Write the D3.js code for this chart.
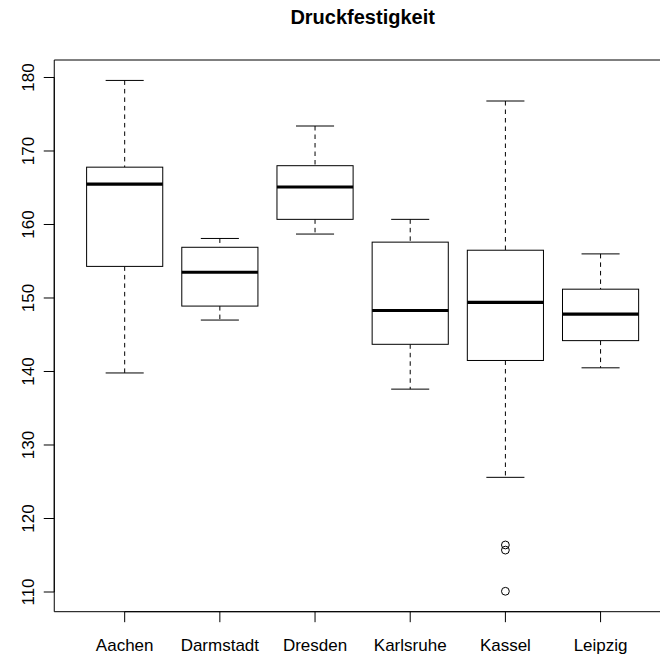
<!DOCTYPE html>
<html>
<head>
<meta charset="utf-8">
<script src="https://cdn.jsdelivr.net/npm/d3@7"></script>
<style>
  html, body { margin: 0; padding: 0; background: #fff; overflow: hidden; }
  svg { display: block; }
  text { font-family: "Liberation Sans", Arial, Helvetica, sans-serif; fill: #000; }
</style>
</head>
<body>
<svg id="chart" width="660" height="657"></svg>
<script>
// Compressive strength by city: five-number summaries plus outliers
const categories  = ["Aachen", "Darmstadt", "Dresden", "Karlsruhe", "Kassel", "Leipzig"];
const whiskerLow  = [139.8, 147.0, 158.7, 137.6, 125.6, 140.5];
const q1          = [154.3, 148.9, 160.7, 143.7, 141.5, 144.2];
const medians     = [165.5, 153.5, 165.1, 148.3, 149.4, 147.8];
const q3          = [167.8, 156.9, 168.0, 157.6, 156.5, 151.2];
const whiskerHigh = [179.6, 158.1, 173.4, 160.7, 176.8, 156.0];
const outliers    = [[], [], [], [], [116.4, 115.7, 110.1], []];
const yTicks      = [110, 120, 130, 140, 150, 160, 170, 180];
const title       = "Druckfestigkeit";

const W = 660;
const svg = d3.select("#chart");
const plot = { left: 54.25, right: 671, top: 60, bottom: 611.7 };

// y range: data extent widened by 4% on each side
const allVals = whiskerLow.concat(whiskerHigh, outliers.flat());
const lo = d3.min(allVals), hi = d3.max(allVals);
const pad = (hi - lo) * 0.04;
const y = d3.scaleLinear().domain([lo - pad, hi + pad]).range([plot.bottom, plot.top]);

// x positions 1..n, widened the same way around [0.5, n + 0.5]
const n = categories.length;
const xPad = n * 0.04;
const x = d3.scaleLinear().domain([0.5 - xPad, n + 0.5 + xPad]).range([plot.left, plot.right]);
const unit = x(1) - x(0);
const boxHalf = 0.4 * unit;
const capHalf = 0.2 * unit;

const data = categories.map((c, i) => ({
  name: c, pos: i + 1,
  lo: whiskerLow[i], q1: q1[i], med: medians[i], q3: q3[i], hi: whiskerHigh[i],
  out: outliers[i]
}));

const g = svg.append("g");

// whiskers (dashed) and caps
const boxes = g.selectAll("g.box").data(data).join("g").attr("class", "box");
boxes.append("line")
  .attr("x1", d => x(d.pos)).attr("x2", d => x(d.pos))
  .attr("y1", d => y(d.hi)).attr("y2", d => y(d.q3))
  .attr("stroke", "#000").attr("stroke-width", 1).attr("stroke-dasharray", "4.5,4");
boxes.append("line")
  .attr("x1", d => x(d.pos)).attr("x2", d => x(d.pos))
  .attr("y1", d => y(d.q1)).attr("y2", d => y(d.lo))
  .attr("stroke", "#000").attr("stroke-width", 1).attr("stroke-dasharray", "4.5,4");
boxes.append("line")
  .attr("x1", d => x(d.pos) - capHalf).attr("x2", d => x(d.pos) + capHalf)
  .attr("y1", d => y(d.hi)).attr("y2", d => y(d.hi))
  .attr("stroke", "#000").attr("stroke-width", 1);
boxes.append("line")
  .attr("x1", d => x(d.pos) - capHalf).attr("x2", d => x(d.pos) + capHalf)
  .attr("y1", d => y(d.lo)).attr("y2", d => y(d.lo))
  .attr("stroke", "#000").attr("stroke-width", 1);

// boxes
boxes.append("rect")
  .attr("x", d => x(d.pos) - boxHalf)
  .attr("width", 2 * boxHalf)
  .attr("y", d => y(d.q3))
  .attr("height", d => y(d.q1) - y(d.q3))
  .attr("fill", "#fff").attr("stroke", "#000").attr("stroke-width", 1);

// medians
boxes.append("line")
  .attr("x1", d => x(d.pos) - boxHalf).attr("x2", d => x(d.pos) + boxHalf)
  .attr("y1", d => y(d.med)).attr("y2", d => y(d.med))
  .attr("stroke", "#000").attr("stroke-width", 3.2);

// outliers
boxes.selectAll("circle").data(d => d.out.map(v => ({ pos: d.pos, v })))
  .join("circle")
  .attr("cx", d => x(d.pos)).attr("cy", d => y(d.v)).attr("r", 3.9)
  .attr("fill", "none").attr("stroke", "#000").attr("stroke-width", 1);

// frame: top, left and bottom sides; the right side falls outside the drawing
const frame = svg.append("g").attr("stroke", "#000").attr("stroke-width", 1);
frame.append("line").attr("x1", plot.left).attr("x2", W + 5).attr("y1", plot.top).attr("y2", plot.top);
frame.append("line").attr("x1", plot.left).attr("x2", W + 5).attr("y1", plot.bottom).attr("y2", plot.bottom);
frame.append("line").attr("x1", plot.left).attr("x2", plot.left).attr("y1", plot.top).attr("y2", plot.bottom);

// y axis
const yAxis = svg.append("g").attr("transform", `translate(${plot.left},0)`);
yAxis.append("line")
  .attr("x1", 0).attr("x2", 0)
  .attr("y1", y(yTicks[0])).attr("y2", y(yTicks[yTicks.length - 1]))
  .attr("stroke", "#000");
yAxis.selectAll("line.tick").data(yTicks).join("line").attr("class", "tick")
  .attr("x1", 0).attr("x2", -10.5)
  .attr("y1", d => y(d)).attr("y2", d => y(d))
  .attr("stroke", "#000");
yAxis.selectAll("text").data(yTicks).join("text")
  .attr("transform", d => `translate(${33.5 - plot.left},${y(d)}) rotate(-90)`)
  .attr("text-anchor", "middle")
  .attr("font-size", 17)
  .text(d => d);

// x axis
const xAxis = svg.append("g").attr("transform", `translate(0,${plot.bottom})`);
xAxis.append("line")
  .attr("x1", x(1)).attr("x2", x(n))
  .attr("y1", 0).attr("y2", 0)
  .attr("stroke", "#000");
xAxis.selectAll("line.tick").data(data).join("line").attr("class", "tick")
  .attr("x1", d => x(d.pos)).attr("x2", d => x(d.pos))
  .attr("y1", 0).attr("y2", 10.5)
  .attr("stroke", "#000");
xAxis.selectAll("text").data(data).join("text")
  .attr("x", d => x(d.pos)).attr("y", 39)
  .attr("text-anchor", "middle")
  .attr("font-size", 17)
  .text(d => d.name);

// title
svg.append("text")
  .attr("x", (plot.left + plot.right) / 2).attr("y", 23.5)
  .attr("text-anchor", "middle")
  .attr("font-size", 20)
  .attr("font-weight", "bold")
  .text(title);
</script>
</body>
</html>
